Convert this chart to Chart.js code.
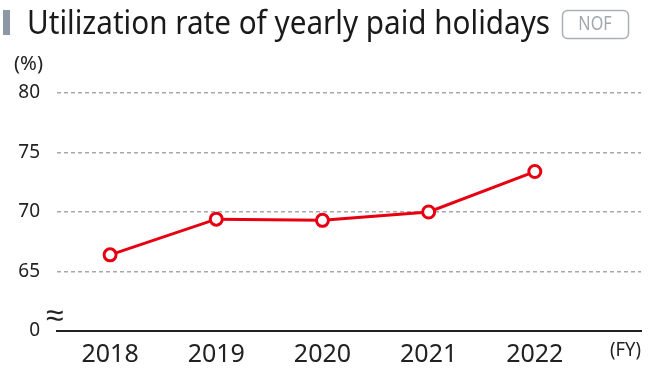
<!DOCTYPE html>
<html>
<head>
<meta charset="utf-8">
<script src="https://cdn.jsdelivr.net/npm/chart.js@4.4.0/dist/chart.umd.min.js"></script>
<style>
  html, body { margin: 0; padding: 0; background: #fff; }
  #wrap { position: relative; width: 650px; height: 372px; }
</style>
</head>
<body>
<div id="wrap"><canvas id="rateChart" width="650" height="372"></canvas></div>
<script>
// chart data
const years = [2018, 2019, 2020, 2021, 2022];
const rates = [66.4, 69.4, 69.3, 70.0, 73.4];
const yTicks = [60, 65, 70, 75, 80];
const yTickLabels = ['0', '65', '70', '75', '80'];

const titleText = 'Utilization rate of yearly paid holidays';
const badgeText = 'NOF';
const RED = '#e60012';
const FONT = "'Noto Sans', sans-serif";

// squeezed text helper, the original uses a condensed face
function narrowText(ctx, text, x, y, sx) {
    ctx.save();
    ctx.translate(x, y);
    ctx.scale(sx, 1);
    ctx.fillText(text, 0, 0);
    ctx.restore();
}

// draws the heading, badge and the small axis notes
const decorations = {
    id: 'decorations',
    afterDraw(chart) {
        const ctx = chart.ctx;
        ctx.save();

        // grey bar before the title
        ctx.fillStyle = '#8e98a4';
        ctx.fillRect(3, 10, 7, 25);

        // title, condensed to fit
        ctx.fillStyle = '#1a1a1a';
        ctx.font = '32px ' + FONT;
        ctx.textBaseline = 'alphabetic';
        const w = ctx.measureText(titleText).width;
        narrowText(ctx, titleText, 27, 34, 523 / w);

        // NOF badge
        ctx.strokeStyle = '#a9b0b8';
        ctx.lineWidth = 1.5;
        ctx.beginPath();
        ctx.roundRect(562.5, 10.5, 66, 28, 5);
        ctx.stroke();
        ctx.fillStyle = '#a0a7ae';
        ctx.font = '19px ' + FONT;
        ctx.textAlign = 'center';
        ctx.textBaseline = 'middle';
        narrowText(ctx, badgeText, 595, 25, 0.85);

        // unit labels
        ctx.fillStyle = '#222';
        ctx.font = '19px ' + FONT;
        ctx.textAlign = 'left';
        ctx.textBaseline = 'alphabetic';
        let m = ctx.measureText('(%)').width;
        narrowText(ctx, '(%)', 14, 70, 29 / m);
        m = ctx.measureText('(FY)').width;
        narrowText(ctx, '(FY)', 610, 356, 31 / m);

        // axis break mark
        ctx.font = '32px ' + FONT;
        ctx.fillText('\u2248', 46, 326);

        ctx.restore();
    }
};

const ctx = document.getElementById('rateChart').getContext('2d');
const rateChart = new Chart(ctx, {
    type: 'line',
    data: {
        datasets: [{
            data: years.map((y, i) => ({ x: y, y: rates[i] })),
            borderColor: RED,
            borderWidth: 3,
            backgroundColor: '#fff',
            pointRadius: 6,
            pointHoverRadius: 6,
            pointBorderWidth: 3,
            pointBackgroundColor: '#fff',
            pointBorderColor: RED,
            tension: 0
        }]
    },
    options: {
        responsive: false,
        animation: false,
        layout: { padding: { top: 93, right: 8, left: 0, bottom: 0 } },
        plugins: { legend: { display: false }, tooltip: { enabled: false } },
        scales: {
            x: {
                type: 'linear',
                min: 2017.5,
                max: 2023,
                afterBuildTicks: scale => { scale.ticks = years.map(v => ({ value: v })); },
                afterFit: scale => { scale.height = 41; },
                grid: { display: false },
                border: { display: true, color: '#222', width: 2 },
                ticks: {
                    color: '#222',
                    font: { family: FONT, size: 25 },
                    padding: 1,
                    maxRotation: 0,
                    callback: v => String(v)
                }
            },
            y: {
                min: 60,
                max: 80,
                afterBuildTicks: scale => { scale.ticks = yTicks.map(v => ({ value: v })); },
                afterFit: scale => { scale.width = 57; },
                grid: {
                    color: c => (c.tick && c.tick.value === 60 ? 'rgba(0,0,0,0)' : '#a8a8a8'),
                    lineWidth: 1.5,
                    drawTicks: false
                },
                border: { display: false, dash: [4, 3] },
                ticks: {
                    color: '#222',
                    font: { family: FONT, size: 19 },
                    padding: 17,
                    callback: v => yTickLabels[yTicks.indexOf(v)]
                }
            }
        }
    },
    plugins: [decorations]
});
</script>
</body>
</html>
